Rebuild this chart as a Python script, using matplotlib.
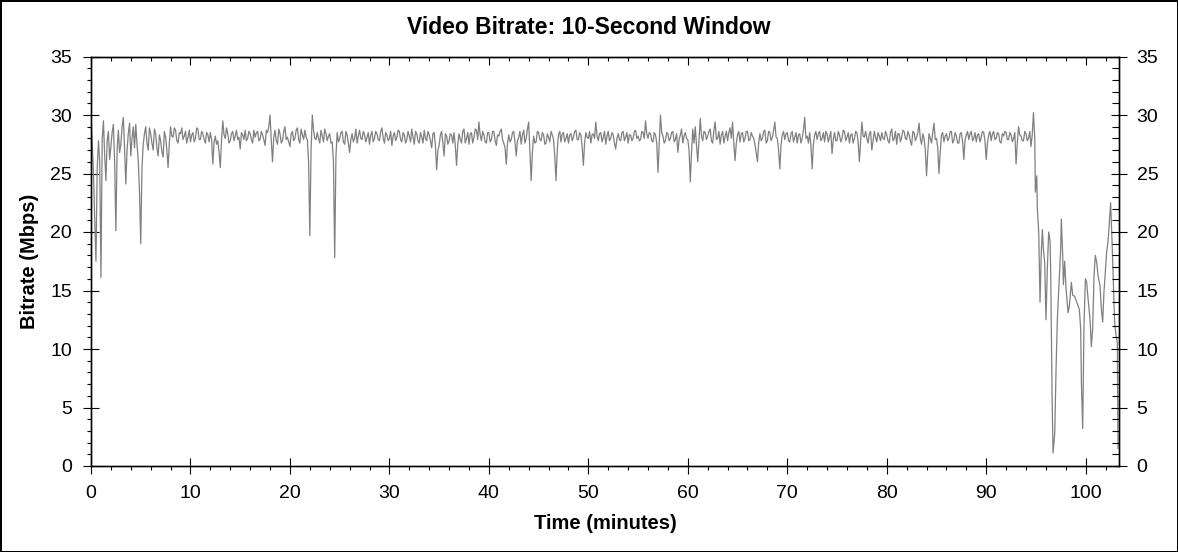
import numpy as np
import matplotlib
matplotlib.use('Agg')
import matplotlib.pyplot as plt
from matplotlib.ticker import MultipleLocator

plt.rcParams['font.family'] = ['Liberation Sans', 'DejaVu Sans']

# bitrate, one value every 15 s (4 per minute), 0 .. 94.75 min
STEP = 0.25
band = [
    29.7, 25.0, 17.5, 27.8,  16.1, 29.5, 24.4, 28.6,  27.3, 29.2, 20.1, 28.7,
    27.5, 29.8, 24.1, 28.4,  26.5, 29.0, 29.2, 26.1,  19.0, 27.5, 29.0, 27.0,
    28.4, 27.0, 28.4, 26.5,  27.8, 26.4, 28.1, 25.5,  29.0, 28.1, 28.7, 27.6,
    28.4, 27.9, 28.6, 28.1,  27.7, 28.5, 28.0, 28.8,  27.9, 28.4, 27.6, 28.3,
    28.5, 25.8, 28.2, 27.8,  25.5, 29.5, 28.0, 28.4,  27.8, 28.6, 28.2, 27.9,
    27.1, 28.3, 28.7, 28.0,  28.4, 27.6, 28.1, 28.6,  27.9, 28.3, 27.4, 28.5,
    30.0, 26.0, 28.7, 27.5,  28.4, 27.8, 29.0, 28.1,  27.3, 28.6, 28.0, 28.9,
    27.6, 28.3, 28.7, 27.9,  19.7, 30.0, 28.0, 28.5,  27.6, 28.2, 28.8, 27.8,
    28.4, 27.7, 17.8, 28.5,  28.0, 28.6, 27.5, 28.3,  26.8, 28.4, 28.0, 27.6,
    28.7, 27.9, 28.3, 28.1,  27.5, 28.6, 28.0, 28.4,  27.8, 28.9, 27.6, 28.3,
    28.0, 27.4, 28.5, 28.1,  28.6, 27.7, 28.3, 27.9,  28.2, 28.8, 27.5, 28.4,
    27.6, 28.1, 28.7, 27.8,  28.3, 27.2, 28.5, 25.3,  27.4, 28.6, 26.5, 28.2,
    27.8, 28.3, 28.5, 25.7,  28.4, 27.6, 28.8, 28.0,  27.5, 28.5, 28.1, 28.7,
    29.4, 27.8, 28.3, 27.6,  28.5, 27.9, 28.6, 27.4,  28.2, 28.8, 27.6, 25.8,
    28.3, 27.9, 28.6, 26.5,  28.1, 27.5, 28.7, 28.0,  29.4, 24.4, 28.2, 27.7,
    28.5, 27.8, 28.3, 27.6,  28.1, 28.6, 27.9, 24.4,  28.3, 27.7, 28.5, 28.0,
    27.6, 28.4, 28.1, 28.7,  27.9, 28.3, 25.7, 28.5,  28.0, 27.6, 28.4, 29.4,
    27.8, 28.5, 28.1, 27.5,  28.6, 28.0, 28.3, 27.1,  28.4, 27.8, 28.6, 28.1,
    27.6, 28.3, 28.0, 28.7,  28.2, 27.9, 28.5, 29.5,  28.0, 28.4, 27.7, 28.3,
    25.1, 30.0, 28.2, 27.8,  28.4, 28.0, 28.6, 27.9,  26.8, 28.3, 27.6, 28.5,
    27.9, 24.3, 28.8, 29.0,  26.0, 29.7, 27.8, 28.5,  28.2, 28.8, 27.6, 29.4,
    28.0, 27.5, 28.6, 28.2,  27.8, 28.9, 29.4, 26.1,  28.3, 27.7, 28.5, 28.0,
    28.6, 27.9, 28.2, 27.5,  26.0, 28.4, 28.0, 28.7,  27.8, 28.5, 28.1, 29.4,
    28.0, 25.4, 28.3, 27.9,  28.5, 27.7, 28.6, 28.1,  27.6, 28.4, 28.0, 29.8,
    28.2, 28.5, 25.4, 28.3,  27.9, 28.6, 28.0, 27.7,  28.4, 28.1, 26.7, 28.5,
    27.8, 28.3, 28.0, 28.6,  28.1, 27.6, 28.4, 28.0,  28.5, 26.0, 29.4, 28.1,
    28.0, 28.4, 27.0, 28.6,  27.7, 28.2, 28.5, 27.9,  28.3, 27.6, 28.8, 28.0,
    27.5, 28.4, 28.1, 28.6,  27.9, 28.3, 27.4, 28.5,  28.1, 29.3, 27.5, 28.0,
    24.8, 28.4, 27.6, 29.3,  28.0, 25.0, 28.3, 27.7,  28.4, 28.0, 28.6, 27.8,
    28.2, 27.6, 28.5, 26.2,  28.3, 27.9, 28.6, 28.0,  27.7, 28.4, 28.1, 28.5,
    26.2, 28.3, 27.8, 28.6,  28.0, 28.4, 27.6, 28.2,  28.5, 27.9, 28.3, 28.0,
    25.8, 29.0, 28.2, 27.8,  28.4, 28.0, 27.3, 30.2,
]

# in-between readings, half a step later than each value above
band_mid = [
    27.5, 21.0, 25.5, 26.0,  27.9, 26.5, 27.8, 26.2,  28.5, 26.0, 27.0, 26.8,
    29.0, 27.2, 27.0, 29.3,  28.0, 27.2, 27.5, 23.5,  25.5, 28.4, 27.6, 28.9,
    27.6, 28.8, 27.2, 28.3,  26.9, 28.6, 27.0, 27.6,  28.2, 28.9, 27.8, 28.5,
    28.9, 28.2, 27.6, 28.7,  28.3, 27.7, 28.9, 27.9,  28.6, 27.9, 28.5, 27.7,
    27.9, 27.7, 27.5, 26.8,  27.9, 28.3, 28.9, 27.6,  28.4, 27.8, 28.7, 28.1,
    28.5, 27.9, 27.8, 28.6,  27.9, 28.7, 28.5, 27.8,  28.6, 27.9, 28.7, 29.0,
    27.8, 28.1, 27.8, 28.8,  27.6, 28.6, 27.9, 27.7,  28.4, 27.8, 28.7, 27.9,
    28.8, 27.9, 28.1, 26.0,  27.0, 28.7, 27.9, 28.0,  28.7, 27.7, 28.4, 28.2,
    27.6, 26.0, 26.5, 27.7,  28.5, 27.7, 28.6, 27.6,  27.9, 27.7, 28.8, 28.2,
    28.0, 28.6, 27.7, 28.5,  28.3, 27.7, 28.6, 27.9,  28.6, 28.0, 28.5, 27.8,
    28.6, 28.2, 27.8, 28.7,  27.9, 28.5, 27.6, 28.6,  27.7, 28.1, 28.6, 27.8,
    28.5, 27.6, 28.0, 28.6,  27.8, 28.4, 27.4, 27.0,  28.3, 27.6, 28.4, 27.5,
    28.4, 27.6, 27.4, 27.5,  27.9, 28.6, 27.6, 28.5,  28.4, 27.6, 28.8, 27.9,
    28.3, 28.6, 27.7, 28.5,  27.7, 28.6, 27.8, 28.3,  28.6, 27.9, 27.2, 27.6,
    27.7, 28.5, 27.7, 27.8,  28.6, 28.3, 27.6, 28.8,  27.0, 26.8, 27.6, 28.6,
    27.9, 28.5, 27.5, 28.4,  27.7, 28.3, 26.5, 27.0,  28.6, 28.4, 27.7, 28.4,
    28.3, 27.8, 28.6, 27.9,  28.5, 27.3, 27.6, 28.1,  28.6, 28.3, 28.0, 28.2,
    28.4, 27.7, 28.6, 28.2,  27.8, 28.5, 27.6, 28.0,  27.9, 28.5, 27.8, 28.5,
    28.3, 27.8, 28.6, 28.0,  27.8, 28.6, 28.0, 28.4,  28.5, 27.8, 28.5, 27.6,
    27.5, 28.5, 27.6, 28.5,  27.8, 28.5, 27.7, 28.4,  27.9, 28.8, 28.2, 28.0,
    27.0, 26.8, 27.6, 27.4,  27.9, 28.2, 28.6, 27.9,  28.6, 27.8, 28.7, 27.9,
    28.6, 28.3, 27.6, 28.6,  28.5, 28.0, 27.6, 27.6,  28.6, 28.4, 27.7, 28.6,
    27.8, 28.5, 28.0, 26.8,  27.6, 27.8, 28.6, 27.6,  28.6, 27.8, 28.7, 28.1,
    27.0, 27.5, 28.6, 28.4,  27.8, 28.4, 27.7, 28.5,  28.3, 27.6, 28.7, 28.0,
    27.6, 27.4, 27.5, 28.6,  28.4, 27.8, 28.5, 28.6,  27.7, 28.6, 27.9, 27.8,
    28.6, 27.7, 28.7, 27.8,  28.5, 28.3, 27.6, 28.6,  27.7, 27.8, 28.2, 28.6,
    27.6, 28.6, 27.8, 28.1,  28.5, 27.8, 28.0, 28.6,  27.8, 28.5, 27.8, 28.6,
    28.4, 27.7, 28.7, 28.0,  28.6, 27.8, 28.6, 27.8,  28.5, 28.0, 28.4, 27.0,
    26.8, 28.0, 28.5, 27.9,  27.2, 26.8, 28.5, 28.2,  27.8, 28.6, 27.6, 28.5,
    27.6, 28.4, 27.7, 27.9,  28.6, 28.4, 27.8, 28.5,  28.3, 27.7, 28.6, 27.8,
    27.6, 28.6, 28.4, 27.9,  28.5, 27.7, 28.4, 28.6,  27.9, 28.5, 27.7, 28.5,
    27.6, 28.3, 27.8, 28.6,  27.8, 28.6, 28.3,
]

# the last minutes, where the rate falls apart
tail_t = [94.88, 94.94, 95.08, 95.14, 95.28, 95.41, 95.54, 95.65, 95.75, 95.88,
          96.01, 96.15, 96.28, 96.42, 96.48, 96.62, 96.72, 96.89, 97.02, 97.15,
          97.35, 97.49, 97.55, 97.69, 97.76, 97.89, 98.02, 98.23, 98.36, 98.56,
          98.69, 98.89, 99.10, 99.36, 99.50, 99.57, 99.70, 99.83, 99.97, 100.10,
          100.24, 100.44, 100.57, 100.70, 100.84, 100.97, 101.11, 101.24, 101.44, 101.58,
          101.71, 101.84, 101.98, 102.11, 102.25, 102.38, 102.51, 102.65, 102.78, 102.91,
          103.05, 103.18, 103.25]
tail_v = [28.0, 23.4, 24.8, 22.0, 20.0, 14.0, 18.3, 20.2, 18.5, 17.4,
          12.5, 17.0, 20.0, 19.2, 16.8, 6.2, 1.1, 2.8, 8.2, 12.5,
          16.0, 18.6, 21.1, 18.0, 15.5, 17.5, 15.2, 13.1, 13.7, 15.7,
          14.6, 14.5, 14.0, 13.4, 11.7, 7.1, 3.2, 12.0, 16.0, 15.7,
          14.3, 12.5, 10.2, 11.7, 16.3, 18.0, 17.4, 16.3, 15.4, 13.4,
          12.3, 14.9, 16.6, 18.3, 19.2, 20.8, 22.5, 19.2, 15.7, 12.3,
          11.2, 10.6, 1.5]

t_band = np.arange(len(band)) * STEP
t_mid = np.arange(len(band_mid)) * STEP + STEP / 2
times = np.concatenate([t_band, t_mid, tail_t])
rate = np.concatenate([band, band_mid, tail_v])
order = np.argsort(times, kind='stable')
times, rate = times[order], rate[order]

fig = plt.figure(figsize=(11.78, 5.52), dpi=100)
fig.patch.set_facecolor('white')
fig.patch.set_edgecolor('black')
fig.patch.set_linewidth(2)

ax = fig.add_axes([91/1178, 1-466/552, (1119-91)/1178, (466-56.5)/552])
ax.plot(times, rate, color='#808080', lw=0.9)
ax.set_xlim(0, 103.35)
ax.set_ylim(0, 35)

ax.xaxis.set_major_locator(MultipleLocator(10))
ax.xaxis.set_minor_locator(MultipleLocator(2))
ax.yaxis.set_major_locator(MultipleLocator(5))
ax.yaxis.set_minor_locator(MultipleLocator(1))

ax.tick_params(which='major', direction='inout', length=11, width=0.8, labelsize=14, pad=8)
ax.tick_params(which='minor', direction='out', length=3.2, width=0.8)
ax.tick_params(top=False, right=False)

# right-hand ticks point inward
axr = ax.twinx()
axr.set_ylim(0, 35)
axr.yaxis.set_major_locator(MultipleLocator(5))
axr.yaxis.set_minor_locator(MultipleLocator(1))
axr.tick_params(which='major', direction='inout', length=11.5, width=0.8, labelsize=14, pad=7)
axr.tick_params(which='minor', direction='in', length=4.8, width=0.8)

# top ticks, no labels
axt = ax.twiny()
axt.set_xlim(0, 103.35)
axt.xaxis.set_major_locator(MultipleLocator(10))
axt.xaxis.set_minor_locator(MultipleLocator(2))
axt.tick_params(which='major', direction='in', length=6, width=0.8, labeltop=False)
axt.tick_params(which='minor', direction='in', length=3, width=0.8)

for a in (ax, axr, axt):
    for s in a.spines.values():
        s.set_linewidth(0.9)

ax.set_xlabel('Time (minutes)', fontsize=14.5, fontweight='bold', labelpad=9)
ax.set_ylabel('Bitrate (Mbps)', fontsize=14.5, fontweight='bold', labelpad=8)
fig.text(0.5, 1-28/552, 'Video Bitrate: 10-Second Window', ha='center', va='center',
         fontsize=16.5, fontweight='bold')

fig.savefig('out.png', dpi=100, facecolor='white', edgecolor='black')
